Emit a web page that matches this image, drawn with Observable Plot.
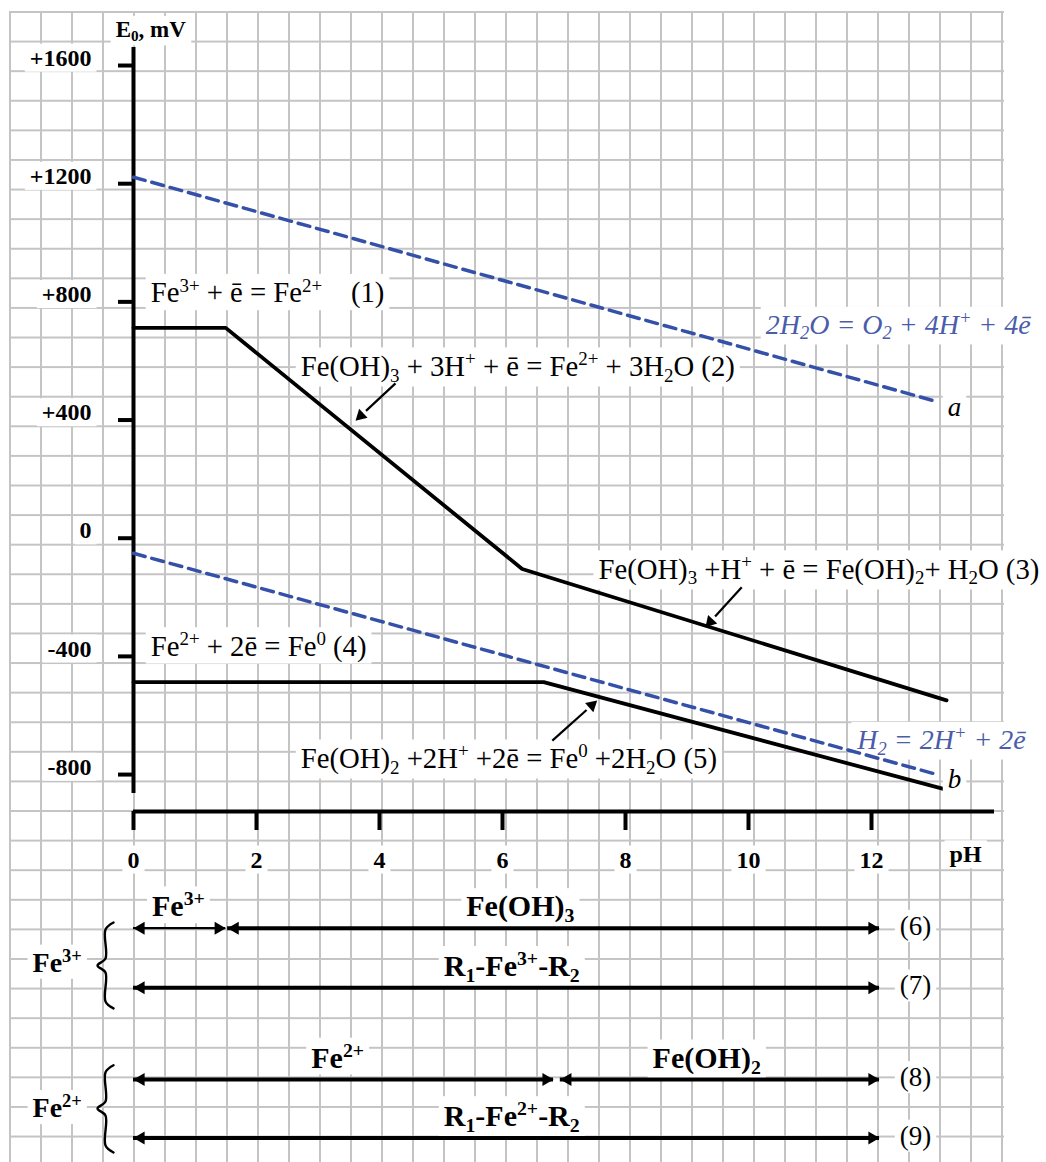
<!DOCTYPE html>
<html><head><meta charset="utf-8">
<script src="https://cdn.jsdelivr.net/npm/d3@7"></script>
<script src="https://cdn.jsdelivr.net/npm/@observablehq/plot@0.6"></script>
<style>
body{margin:0;background:#fff}
#page{position:relative;width:1046px;height:1162px;overflow:hidden;background:#fff}
#grid{position:absolute;left:9px;top:11px;width:995px;height:1151px;
 background-image:linear-gradient(to right,#c4c4c4 2px,transparent 2px),linear-gradient(to bottom,#c4c4c4 2px,transparent 2px);
 background-size:31px 29.6px;}
#chart{position:absolute;left:0;top:0;width:1046px}
#chart svg{display:block}
</style></head>
<body><div id="page"><div id="grid"></div><div id="chart"></div></div>
<script>
const serif = "'Liberation Serif', 'Times New Roman', 'DejaVu Serif', serif";
const blueLine = "#3550a8";
const blueText = "#4a5caa";

// ---- Potential–pH boundaries: E0 (mV) against pH ----
const upperPH = [0, 1.50, 6.32, 13.22];      // (1) - (2) - (3)
const upperE  = [712, 712, -104, -549];
const lowerPH = [0, 6.67, 13.32];            // (4) - (5)
const lowerE  = [-487, -487, -857];
const waterPH = [0, 13.0];
const oxygenE = [1222, 466];                 // line a
const hydrogenE = [-51, -796];               // line b

const eTicks = [1600, 1200, 800, 400, 0, -400, -800];
const phTicks = [0, 2, 4, 6, 8, 10, 12];
const eExtent = [1661, -925];
const eAxisSpan = [1661, -864];
const phExtent = [0, 14];

// ---- annotations (data units) ----
const reactionLabels = [
  "Fe^{3+} + ē = Fe^{2+}\u00a0\u00a0\u00a0\u00a0(1)",
  "Fe(OH)_{3} + 3H^{+} + ē = Fe^{2+} + 3H_{2}O (2)",
  "Fe(OH)_{3} +H^{+} + ē = Fe(OH)_{2}+ H_{2}O (3)",
  "Fe^{2+} + 2ē = Fe^{0} (4)",
  "Fe(OH)_{2} +2H^{+} +2ē = Fe^{0} +2H_{2}O (5)"
];
const reactionPH = [0.28, 2.72, 7.56, 0.28, 2.72];
const reactionE = [830, 581, -106, -366, -746];

const waterLabels = ["2H_{2}O = O_{2} + 4H^{+} + 4ē", "H_{2} = 2H^{+} + 2ē"];
const waterLabelPH = [10.28, 11.77];
const waterLabelE = [722, -683];

const lineNames = ["a", "b"];
const lineNamePH = [13.24, 13.24];
const lineNameE = [444, -815];

const pointerFromPH = [4.26, 9.89, 6.81];
const pointerFromE = [524, -166, -685];
const pointerToPH = [3.61, 9.30, 7.54];
const pointerToE = [398, -301, -549];

// ---- species existence ranges (rows 6–9) ----
const rows = [6, 7, 8, 9];
const rowNames = ["(6)", "(7)", "(8)", "(9)"];
const segRow  = [6, 6, 7, 8, 8, 9];
const segFrom = [0, 1.53, 0, 0, 6.94, 0];
const segTo   = [1.50, 12.13, 12.13, 6.83, 12.13, 12.13];
const segName = ["Fe^{3+}", "Fe(OH)_{3}", "R_{1}-Fe^{3+}-R_{2}", "Fe^{2+}", "Fe(OH)_{2}", "R_{1}-Fe^{2+}-R_{2}"];
const segNamePH = [0.73, 6.29, 6.15, 3.32, 9.32, 6.15];
const groupNames = ["Fe^{3+}", "Fe^{2+}"];
const groupRow = [6.58, 8.49];
const braceRows = [[5.904, 6.022, 6.508, 6.626, 6.743, 7.149, 7.225],
                   [7.845, 7.921, 8.376, 8.496, 8.615, 9.128, 9.248]];
const bracePH = [-0.325, -0.455, -0.455, -0.585, -0.455, -0.455, -0.325];

// ---- scales shared with Plot ----
const xRange = [133, 994];
const yRange = [47, 811];
const xs = d3.scaleLinear(phExtent, xRange);
const ys = d3.scaleLinear(eExtent, yRange);

// ---- tables ----
const iron = [
  ...upperPH.map((p, i) => ({series: "upper", pH: p, E: upperE[i]})),
  ...lowerPH.map((p, i) => ({series: "lower", pH: p, E: lowerE[i]}))
];
const water = [
  ...waterPH.map((p, i) => ({series: "a", pH: p, E: oxygenE[i]})),
  ...waterPH.map((p, i) => ({series: "b", pH: p, E: hydrogenE[i]}))
];
const reactions = reactionLabels.map((t, i) => ({t, pH: reactionPH[i], E: reactionE[i]}));
const waterTexts = waterLabels.map((t, i) => ({t, pH: waterLabelPH[i], E: waterLabelE[i]}));
const names = lineNames.map((t, i) => ({t, pH: lineNamePH[i], E: lineNameE[i]}));
const headR = 4.6;
const headBack = 2 * headR * Math.sqrt(Math.PI / (3 * Math.sqrt(3)));
const pointers = pointerFromPH.map((p, i) => {
  const d = {x1: p, y1: pointerFromE[i], x2: pointerToPH[i], y2: pointerToE[i]};
  const px1 = xs(d.x1), py1 = ys(d.y1), px2 = xs(d.x2), py2 = ys(d.y2);
  const a = Math.atan2(py2 - py1, px2 - px1);
  d.rot = a * 180 / Math.PI + 90;
  d.hx = xs.invert(px2 - headBack * Math.cos(a));
  d.hy = ys.invert(py2 - headBack * Math.sin(a));
  d.sx = xs.invert(px2 - 2 * headBack * Math.cos(a));
  d.sy = ys.invert(py2 - 2 * headBack * Math.sin(a));
  return d;
});
const segs = segRow.map((r, i) => ({row: r, from: segFrom[i], to: segTo[i], name: segName[i], at: segNamePH[i]}));
const groups = groupNames.map((t, i) => ({t, row: groupRow[i]}));
const rowLabels = rows.map((r, i) => ({row: r, t: rowNames[i]}));
const braces = braceRows.flatMap((rs, b) => rs.map((r, i) => ({brace: b, row: r, pH: bracePH[i]})));

const fmtE = d => d > 0 ? "+" + d : String(d);

const topPlot = Plot.plot({
  width: 1046, height: 880,
  marginLeft: 133, marginRight: 52, marginTop: 47, marginBottom: 69,
  x: {type: "linear", domain: phExtent, range: xRange, axis: null},
  y: {type: "linear", domain: eExtent, range: yRange, axis: null},
  style: {background: "transparent", fontFamily: serif, color: "black", overflow: "visible"},
  marks: [
    Plot.text(reactions, {x: "pH", y: "E", text: "t", textAnchor: "start", fontSize: 28.7, fill: "black"}),
    Plot.text(waterTexts, {x: "pH", y: "E", text: "t", textAnchor: "start", fontSize: 28, fontStyle: "italic", fill: blueText}),
    Plot.ruleX([0], {y1: eAxisSpan[0], y2: eAxisSpan[1], strokeWidth: 4}),
    Plot.ruleY([eExtent[1]], {strokeWidth: 4}),
    Plot.axisY(eTicks, {anchor: "left", tickSize: 15, strokeWidth: 4, fill: "none"}),
    Plot.axisY(eTicks, {anchor: "left", tickSize: 0, tickPadding: 42, dy: -7.5, fontSize: 24, fontWeight: "bold", tickFormat: fmtE}),
    Plot.axisX(phTicks, {anchor: "bottom", tickSize: 19, strokeWidth: 4, fill: "none"}),
    Plot.axisX(phTicks, {anchor: "bottom", tickSize: 0, tickPadding: 39, fontSize: 24, fontWeight: "bold", tickFormat: d => String(d)}),
    Plot.line(water, {x: "pH", y: "E", z: "series", stroke: blueLine, strokeWidth: 3.5, strokeDasharray: "12 7"}),
    Plot.line(iron, {x: "pH", y: "E", z: "series", stroke: "black", strokeWidth: 3.8, strokeLinejoin: "miter"}),
    Plot.link(pointers, {x1: "x1", y1: "y1", x2: "sx", y2: "sy", stroke: "black", strokeWidth: 2.2}),
    Plot.dot(pointers, {x: "hx", y: "hy", rotate: "rot", symbol: "triangle", r: headR, fill: "black"}),
    Plot.text(names, {x: "pH", y: "E", text: "t", textAnchor: "start", fontSize: 27, fontStyle: "italic", fill: "black"}),
    Plot.text(["E_{0}, mV"], {x: -0.29, y: 1722, textAnchor: "start", fontSize: 23, fontWeight: "bold"}),
    Plot.text(["pH"], {x: 13.53, y: -1071, fontSize: 24, fontWeight: "bold"})
  ]
});

const bottomPlot = Plot.plot({
  width: 1046, height: 282,
  marginLeft: 133, marginRight: 52, marginTop: 0, marginBottom: 0,
  x: {type: "linear", domain: phExtent, range: xRange, axis: null},
  y: {type: "linear", domain: rows, range: [47.7, 107.3, 199, 257.5], axis: null},
  style: {background: "transparent", fontFamily: serif, color: "black", overflow: "visible"},
  marks: [
    Plot.text(segs, {x: "at", y: "row", text: "name", lineAnchor: "bottom", dy: -12, fontSize: 30, fontWeight: "bold"}),
    Plot.text(groups, {x: -1.24, y: "row", text: "t", fontSize: 28, fontWeight: "bold"}),
    Plot.text(rowLabels, {x: 12.46, y: "row", text: "t", textAnchor: "start", dy: -2, fontSize: 27}),
    Plot.ruleY(segs, {filter: d => d.row === 6 && d.from === 0, y: "row", x1: "from", x2: "to", strokeWidth: 2.2}),
    Plot.ruleY(segs, {filter: d => !(d.row === 6 && d.from === 0), y: "row", x1: "from", x2: "to", strokeWidth: 4}),
    Plot.dot(segs, {x: "from", y: "row", symbol: "triangle", r: 4.8, rotate: -90, dx: 7.4, fill: "black"}),
    Plot.dot(segs, {x: "to", y: "row", symbol: "triangle", r: 4.8, rotate: 90, dx: -7.4, fill: "black"}),
    Plot.line(braces, {x: "pH", y: "row", z: "brace", curve: "catmull-rom", stroke: "black", strokeWidth: 2.4})
  ]
});

const chart = document.getElementById("chart");
chart.appendChild(topPlot);
chart.appendChild(bottomPlot);

const NS = "http://www.w3.org/2000/svg";
function enrich(svg) {
  svg.querySelectorAll("text").forEach(t => {
    const s = t.textContent;
    if (!/[\^_]\{/.test(s)) return;
    const fs = parseFloat(getComputedStyle(t).fontSize) || 20;
    t.textContent = "";
    let shift = 0;
    const add = (str, kind) => {
      const ts = document.createElementNS(NS, "tspan");
      ts.textContent = str;
      const target = kind === "^" ? -0.36 * fs : kind === "_" ? 0.2 * fs : 0;
      if (target !== shift) { ts.setAttribute("dy", (target - shift).toFixed(2)); shift = target; }
      if (kind) ts.setAttribute("font-size", (0.66 * fs).toFixed(2));
      t.appendChild(ts);
    };
    const re = /([\^_])\{([^}]*)\}/g; let last = 0, m;
    while ((m = re.exec(s))) {
      if (m.index > last) add(s.slice(last, m.index), null);
      add(m[2], m[1]);
      last = re.lastIndex;
    }
    if (last < s.length) add(s.slice(last), null);
  });
}
function box(svg, padX, padY) {
  svg.querySelectorAll("text").forEach(t => {
    const b = t.getBBox();
    if (!b.width) return;
    const r = document.createElementNS(NS, "rect");
    r.setAttribute("x", b.x - padX); r.setAttribute("y", b.y - padY);
    r.setAttribute("width", b.width + 2 * padX); r.setAttribute("height", b.height + 2 * padY);
    r.setAttribute("fill", "white"); r.setAttribute("stroke", "none");
    const tr = t.getAttribute("transform"); if (tr) r.setAttribute("transform", tr);
    t.parentNode.insertBefore(r, t);
  });
}
[topPlot, bottomPlot].forEach(svg => { enrich(svg); box(svg, 5, 1); });
</script></body></html>
